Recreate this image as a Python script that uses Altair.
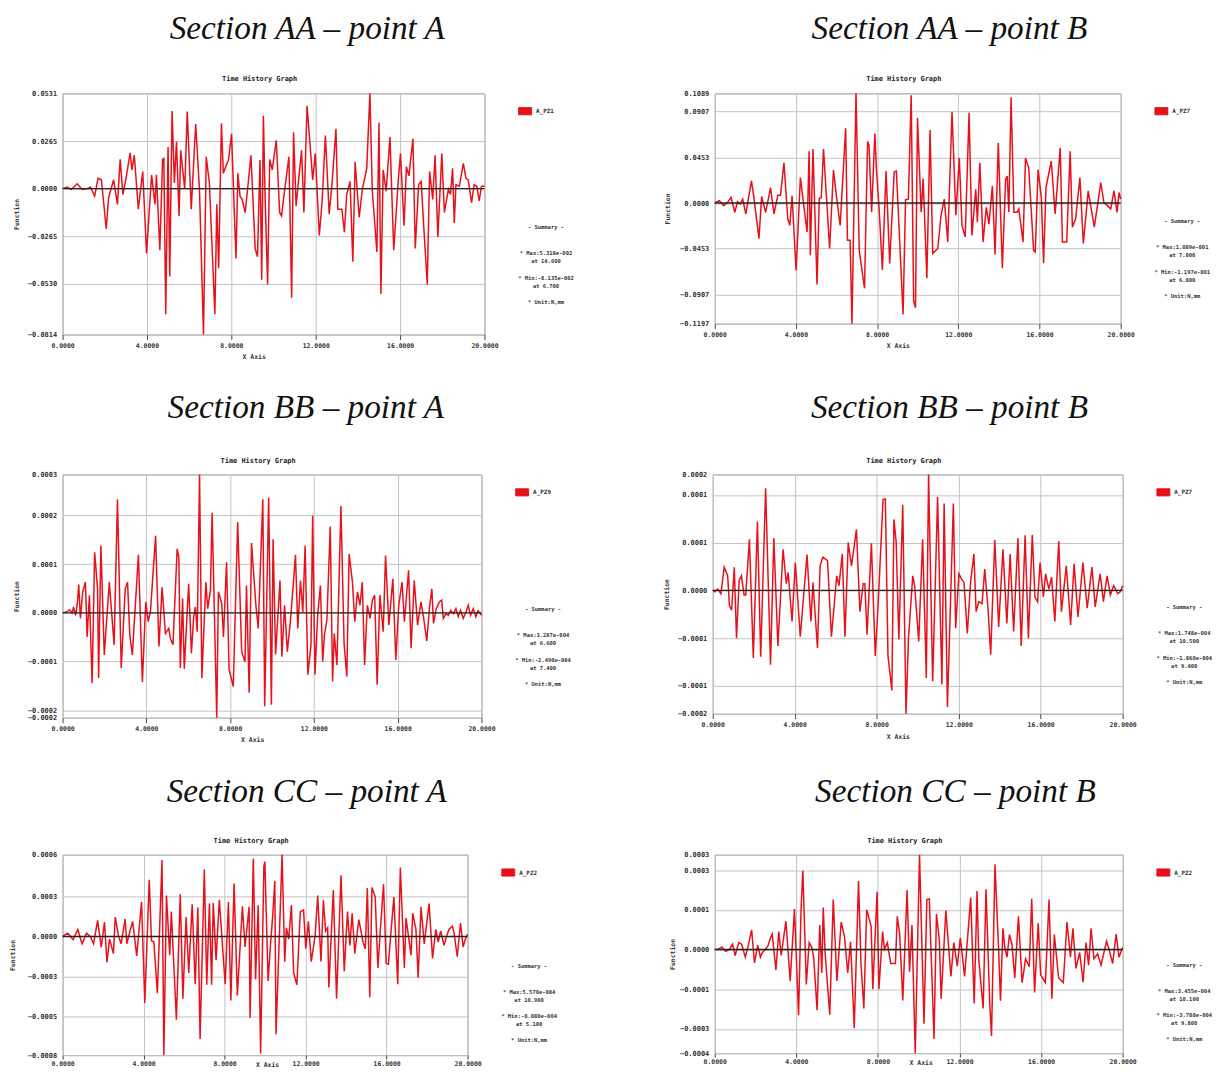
import altair as alt
import pandas as pd

MONO = "DejaVu Sans Mono"
RED = "#e8101a"

# ---------------- Section AA - point A (values x 1e-2) ----------------
aa_a_t = [0.00,0.22,0.41,0.69,0.93,1.19,1.32,1.52,1.68,1.84,2.07,2.18,2.42,2.60,2.73,2.86,3.01,3.20,3.29,3.40,
          3.59,3.80,3.98,4.22,4.38,4.45,4.61,4.74,4.80,4.89,5.00,5.08,5.19,5.30,5.40,5.52,5.60,5.79,5.91,6.10,
          6.31,6.49,6.68,6.81,6.96,7.22,7.31,7.40,7.53,7.62,7.87,8.01,8.22,8.31,8.41,8.50,8.66,8.93,9.13,9.24,
          9.36,9.44,9.52,9.60,9.72,9.82,9.94,10.13,10.29,10.38,10.49,10.73,10.86,10.95,11.07,11.20,11.33,11.44,
          11.59,11.86,11.98,12.17,12.30,12.46,12.64,12.77,12.96,13.05,13.24,13.36,13.47,13.63,13.76,13.87,14.06,
          14.21,14.42,14.57,14.68,14.90,15.00,15.09,15.20,15.34,15.52,15.70,15.91,16.02,16.19,16.30,16.42,16.61,
          16.72,16.88,17.00,17.13,17.29,17.40,17.55,17.66,17.79,17.98,18.10,18.29,18.39,18.49,18.57,18.65,18.81,
          19.00,19.12,19.23,19.39,19.51,19.64,19.75,19.86,20.00]
aa_a_v = [0,0.09,-0.05,0.27,-0.05,0,0.09,-0.42,0.57,0.49,-2.25,-0.51,0.49,-0.88,1.63,-0.33,0.58,1.99,1.04,1.86,
          -1.15,0.95,-3.62,0.75,-0.88,0.77,-3.44,1.63,1.68,-7.00,2.32,-4.90,4.33,0.31,2.63,-1.52,2.14,-0.02,4.29,-1.15,
          3.60,-0.05,-8.135,1.77,0.31,-7.00,-0.88,-4.44,3.64,0.86,1.63,3.05,-3.89,0.86,-0.42,-0.57,-1.33,1.86,-3.34,-3.80,
          1.59,-5.08,4.06,-0.42,-5.35,1.63,1.04,2.69,-1.33,-1.52,-0.42,1.77,-6.09,3.14,-0.97,0.60,2.14,-1.33,
          4.61,0.49,1.96,-2.61,-0.79,2.96,-1.43,0.22,3.33,-1.15,-1.15,-2.43,-0.33,0.40,-4.08,1.50,-1.61,
          -0.05,1.13,5.31,-0.05,-3.53,3.69,-5.87,1.04,-0.15,2.87,-3.44,0.40,1.96,-2.07,1.22,0.71,2.78,
          -3.34,0.22,0.40,-2.25,-5.35,0.95,-0.60,1.86,-2.70,1.96,-1.33,-0.05,-0.33,1.13,-1.92,0.22,0.13,
          1.41,0.58,0.49,-0.79,0.22,0.13,-0.69,0.13,0.13]
aa_a_ticks = [5.31, 2.65, 0, -2.65, -5.30, -8.135]

# ---------------- Section AA - point B (values x 1e-2) ----------------
aa_b_t = [0.00,0.23,0.44,0.64,0.80,0.99,1.12,1.25,1.38,1.53,1.81,1.94,2.18,2.31,2.51,2.75,2.92,3.11,3.24,3.41,
          3.60,3.70,3.81,4.01,4.22,4.38,4.55,4.65,4.71,4.84,5.04,5.15,5.25,5.36,5.66,5.85,6.01,6.18,6.45,6.54,
          6.67,6.76,6.96,7.12,7.38,7.53,7.60,7.73,7.89,7.97,8.10,8.26,8.44,8.62,8.84,8.95,9.28,9.40,9.54,9.68,
          9.80,9.89,9.99,10.17,10.27,10.45,10.61,10.74,10.99,11.15,11.31,11.48,11.69,11.88,12.05,12.18,12.34,12.53,
          12.67,12.86,12.94,13.06,13.22,13.38,13.51,13.68,13.81,13.97,14.17,14.33,14.41,14.49,14.60,14.74,14.90,
          14.98,15.19,15.31,15.47,15.71,15.79,15.93,16.09,16.20,16.32,16.58,16.77,17.02,17.13,17.34,17.51,17.62,
          17.78,17.99,18.16,18.40,18.70,19.02,19.17,19.35,19.51,19.67,19.82,19.92,20.00]
aa_b_v = [0,0.23,-0.26,0.07,0.56,-0.92,0.13,-0.10,0.39,-1.08,2.19,0.39,-3.53,0.65,-0.92,1.54,-1.08,0.78,0.78,3.99,
          -1.57,-2.22,0.72,-6.70,2.52,-0.10,-2.88,5.13,-5.17,5.36,-8.08,0.46,0.52,5.36,-4.51,3.27,0.46,-2.22,7.42,-3.69,
          -3.69,-11.97,10.89,-4.71,-8.47,6.11,5.75,-0.92,6.90,3.24,-0.59,-6.64,3.17,-6.00,3.07,3.17,-11.05,0.33,0.39,10.69,
          -9.74,-10.40,8.44,-0.92,2.42,-7.46,7.26,-5.00,-4.51,-1.24,0.39,-3.86,9.06,-1.20,4.48,-2.22,-3.36,8.96,
          -3.21,1.37,-1.90,3.99,-3.86,-0.43,-2.09,1.70,-5.10,5.95,-6.47,2.35,2.68,-0.92,10.50,-0.92,-0.92,
          -0.59,-3.86,4.48,3.50,-4.71,-4.87,3.31,0.56,-5.98,1.54,4.15,-1.08,5.49,-3.86,-3.86,5.13,-2.39,
          -1.57,2.52,-4.02,1.21,-2.39,2.03,0.07,-0.26,-0.59,1.21,-0.92,1.05,0.39]
aa_b_ticks = [10.89, 9.07, 4.53, 0, -4.53, -9.07, -11.97]

# ---------------- Section BB - point A (values x 1e-4) ----------------
bb_a_t = [0.00,0.17,0.33,0.46,0.52,0.62,0.70,0.77,0.85,0.96,1.09,1.17,1.28,1.41,1.53,1.67,1.72,1.83,1.99,2.23,
          2.46,2.62,2.80,2.99,3.10,3.21,3.33,3.62,3.81,3.97,4.09,4.20,4.44,4.60,4.75,4.91,5.07,5.15,5.27,5.47,
          5.55,5.62,5.73,5.81,6.02,6.15,6.26,6.34,6.43,6.54,6.65,6.84,6.93,7.06,7.14,7.36,7.44,7.60,7.68,7.83,
          7.95,8.15,8.36,8.55,8.71,8.78,8.91,9.02,9.23,9.34,9.56,9.65,9.84,9.97,10.05,10.17,10.38,10.47,10.60,10.73,
          10.89,11.12,11.23,11.36,11.47,11.58,11.71,11.86,11.94,12.05,12.18,12.31,12.42,12.50,12.62,12.78,12.89,12.97,
          13.10,13.29,13.44,13.57,13.68,13.84,13.95,14.08,14.20,14.31,14.42,14.55,14.68,14.79,14.90,15.02,15.15,15.31,
          15.42,15.58,15.77,15.91,16.05,16.21,16.32,16.52,16.64,16.79,16.95,17.11,17.23,17.39,17.52,17.63,17.71,17.84,
          17.99,18.10,18.18,18.31,18.42,18.53,18.66,18.78,18.89,19.00,19.13,19.26,19.37,19.48,19.61,19.73,19.84,19.95,20.00]
bb_a_v = [0,0.02,0.07,0,0.14,-0.06,0.20,0.67,-0.13,0.50,0.73,-0.57,0.42,-1.67,1.44,0.57,-1.55,1.60,-1.00,0.73,
          -0.76,2.70,-1.31,0.57,0.73,-0.53,-1.00,1.38,-1.64,0.26,-0.21,0.06,1.83,-0.80,0.61,-0.49,-0.37,-0.61,-0.76,1.52,
          1.32,-1.31,0.34,-1.33,0.69,-0.96,-0.09,0.14,-0.45,3.287,-1.55,0.73,0.10,0.54,2.38,-2.49,0.50,0.22,-0.57,1.20,
          -1.35,-1.75,2.16,-0.92,-1.16,0.65,-1.90,1.66,0.18,-0.37,2.70,-2.22,2.74,-2.18,1.75,-0.99,0.77,-1.04,0.18,-0.92,
          -0.13,1.38,-0.37,0.77,0.02,1.60,-1.47,-0.76,2.31,-1.47,-0.06,0.65,-1.16,-0.53,-0.17,2.05,-1.63,-0.49,
          -1.24,2.54,-0.72,-1.51,1.40,0.73,-0.21,0.50,0.18,0.73,-1.24,0.18,-0.13,0.30,0.42,-1.71,0.42,-0.45,
          1.36,-0.29,0.81,-1.12,0.18,0.73,-0.21,1.01,-0.84,0.77,-0.29,0.26,-0.09,-0.67,0.14,0.57,-0.25,0.10,
          0.26,0.30,-0.13,-0.02,-0.06,0.06,-0.02,0.10,-0.09,0.06,-0.13,0.02,0.18,-0.06,0.10,-0.09,0.05,-0.02,-0.06]
bb_a_ticks = [3.287, 2.314, 1.157, 0, -1.157, -2.314, -2.49]

# ---------------- Section BB - point B (values x 1e-4) ----------------
bb_b_t = [0.00,0.11,0.24,0.40,0.56,0.73,0.81,0.92,1.05,1.16,1.29,1.40,1.53,1.61,1.79,1.98,2.18,2.34,2.58,2.82,
          2.98,3.18,3.43,3.59,3.68,3.87,4.03,4.27,4.60,4.79,4.89,5.11,5.24,5.37,5.60,5.79,6.05,6.16,6.32,6.45,
          6.61,6.77,7.01,7.18,7.34,7.42,7.53,7.74,7.93,8.06,8.31,8.42,8.55,8.74,8.84,8.95,9.08,9.27,9.43,9.55,
          9.76,9.85,10.05,10.24,10.42,10.53,10.73,10.97,11.18,11.29,11.45,11.74,11.85,12.01,12.14,12.26,12.42,12.58,
          12.74,12.85,12.98,13.14,13.27,13.43,13.56,13.76,13.95,14.16,14.35,14.51,14.68,14.89,15.05,15.24,15.40,15.59,
          15.72,15.85,15.97,16.13,16.24,16.40,16.53,16.69,16.88,17.01,17.25,17.46,17.63,17.82,18.06,18.27,18.50,18.66,
          18.90,19.06,19.24,19.40,19.56,19.76,19.88,20.00]
bb_b_v = [0,-0.02,0.02,-0.05,0.35,0.22,-0.22,-0.30,0.35,-0.72,0.15,0.22,-0.07,-0.07,0.77,-1.02,1.04,-1.00,1.54,-1.12,
          0.79,-0.84,0.62,0.10,0.27,-0.47,0.42,-0.70,0.54,-0.47,0.12,-0.87,0.37,0.50,0.45,-0.70,0.22,0.07,0.55,-0.70,
          0.72,0.37,0.92,-0.32,0.10,0.10,-0.67,0.71,-0.99,-0.27,1.37,1.38,-0.99,-1.51,1.07,0.72,-0.74,1.29,-1.86,-0.72,
          0.22,0.07,-0.77,0.77,-1.32,1.748,-1.37,1.41,-1.42,1.31,-1.76,1.31,-0.57,0.25,0.17,0.12,-0.65,0.12,
          0.55,-0.32,-0.17,-0.20,0.32,-0.27,-0.97,0.76,-0.55,0.62,-0.50,0.55,-0.62,0.79,-0.84,0.83,-0.72,0.84,
          -0.10,-0.17,0.42,-0.10,0.25,0.02,0.20,-0.47,0.74,-0.32,0.37,-0.52,0.40,-0.40,0.42,-0.27,0.35,-0.25,
          0.25,-0.17,0.22,-0.07,0.07,-0.05,-0.02,0.07]
bb_b_ticks = [1.748, 1.44, 0.72, 0, -0.72, -1.44, -1.86]

# ---------------- Section CC - point A (values x 1e-4) ----------------
cc_a_t = [0.00,0.26,0.52,0.75,0.96,1.18,1.37,1.53,1.73,1.91,2.07,2.19,2.32,2.51,2.60,2.76,2.89,3.09,3.17,3.33,
          3.46,3.66,3.90,4.06,4.28,4.39,4.51,4.68,4.91,5.00,5.13,5.29,5.37,5.62,5.81,5.94,6.10,6.23,6.40,6.55,
          6.68,6.79,7.00,7.12,7.25,7.36,7.44,7.58,7.74,7.90,8.03,8.19,8.31,8.47,8.63,8.88,9.01,9.21,9.26,9.42,
          9.53,9.66,9.78,9.94,9.99,10.15,10.27,10.38,10.48,10.54,10.84,10.97,11.05,11.17,11.30,11.41,11.57,11.74,
          11.90,12.01,12.14,12.28,12.47,12.60,12.76,12.88,12.99,13.09,13.15,13.37,13.53,13.75,13.91,14.07,14.19,
          14.30,14.43,14.63,14.84,14.95,15.05,15.17,15.28,15.44,15.57,15.70,15.85,15.98,16.09,16.19,16.36,16.55,
          16.68,16.88,16.96,17.21,17.29,17.45,17.56,17.70,17.86,18.10,18.27,18.43,18.55,18.67,18.84,18.97,19.08,
          19.25,19.33,19.49,19.65,19.78,19.89,20.00]
cc_a_v = [0,0.22,-0.22,0.48,-0.50,0.22,0,-0.50,1.10,-0.72,0.97,-1.76,-0.18,-1.16,1.32,0.04,-0.50,1.19,-0.50,0.37,
          1.03,-1.32,2.35,-4.52,3.86,-0.29,-0.39,-3.86,5.20,-8.08,2.78,-1.28,1.69,-5.66,2.88,-4.24,1.32,-2.48,2.19,-3.25,
          1.98,-6.98,4.55,-3.29,2.24,-3.29,2.28,-1.61,2.50,-0.72,-3.25,2.35,-4.35,3.60,-4.02,2.06,-0.72,2.02,-5.55,5.31,
          -2.92,2.13,-7.97,4.76,5.09,-3.03,-0.50,1.47,3.78,-6.65,5.57,-1.72,0.59,-0.18,2.13,-2.47,-3.29,1.69,
          1.80,-0.83,1.03,-1.71,0.04,2.78,-1.71,2.46,0.37,0.59,-3.47,3.16,-4.24,4.17,-2.37,1.69,-0.61,
          1.58,-1.16,1.15,-0.39,-0.83,3.29,-4.13,3.34,2.68,-2.15,0.59,3.56,-1.83,-1.89,-0.18,2.68,-3.25,
          4.70,-2.15,1.25,-1.27,1.58,0.48,-2.81,2.02,-0.50,2.24,-1.49,0.48,-0.39,0.37,-0.61,0.04,0.48,
          0.70,0.26,-1.38,0.92,-0.72,-0.18,0.15]
cc_a_ticks = [5.57, 2.72, 0, -2.72, -5.44, -8.08]

# ---------------- Section CC - point B (values x 1e-4) ----------------
cc_b_t = [0.00,0.18,0.35,0.53,0.70,0.88,1.00,1.18,1.32,1.50,1.64,1.81,1.95,2.11,2.24,2.34,2.48,2.61,2.73,2.82,
          3.00,3.14,3.26,3.49,3.70,3.91,4.11,4.23,4.32,4.49,4.63,4.76,4.85,5.02,5.15,5.25,5.32,5.41,5.64,5.81,
          5.99,6.20,6.36,6.52,6.66,6.84,7.05,7.17,7.31,7.45,7.67,7.75,7.96,8.05,8.23,8.32,8.46,8.63,8.86,8.95,
          9.07,9.22,9.43,9.55,9.67,9.83,10.04,10.26,10.40,10.52,10.75,10.87,11.01,11.10,11.33,11.58,11.72,11.89,
          12.04,12.25,12.55,12.72,12.86,12.95,13.16,13.30,13.48,13.57,13.74,13.92,14.01,14.13,14.22,14.33,14.45,
          14.57,14.71,14.89,15.07,15.24,15.42,15.54,15.68,15.86,15.98,16.21,16.39,16.53,16.65,16.86,17.09,17.27,
          17.44,17.56,17.71,17.89,18.06,18.20,18.33,18.45,18.59,18.77,18.94,19.21,19.33,19.51,19.68,19.82,20.00]
cc_b_v = [0,0.01,0.09,-0.07,-0.02,0.19,-0.22,0.25,0.19,-0.28,0.13,0.71,-0.49,0.16,-0.28,-0.11,0,0.13,0.42,0.56,
          -0.75,0.65,-0.22,1.03,-1.15,1.47,-2.40,1.42,2.87,-1.28,0.25,0.07,-0.28,-2.21,0.89,-0.86,1.53,-0.11,-2.38,1.82,
          -1.15,1.00,0.48,-0.86,0.28,-2.87,2.49,-0.51,-2.15,1.45,0.83,-1.45,2.10,-1.45,0.65,0.01,0.25,-0.51,-0.51,1.21,
          0.54,-1.86,2.17,-0.81,0.89,-3.78,3.455,-2.71,1.82,1.84,-3.26,1.29,0.36,-1.80,1.42,-0.98,0.25,-0.61,
          0.42,-0.98,1.89,-1.97,2.13,-0.40,-2.15,2.19,-1.92,-3.15,3.10,-0.05,-1.87,0.77,0.07,-0.28,0.54,
          0.19,-1.04,1.21,-1.21,-0.34,-0.63,1.85,-1.57,0.95,-0.93,-1.21,1.82,-1.80,0.54,-1.04,-1.21,1.00,
          -0.28,0.77,-0.69,-0.11,-1.19,0.25,-0.57,0.77,-0.34,-0.16,-0.57,0.30,0.01,-0.51,0.56,-0.28,0.07]
cc_b_ticks = [3.455, 2.894, 1.447, 0, -1.447, -2.894, -3.78]

x_ticks = [0, 4, 8, 12, 16, 20]

# summary text lines and their vertical offsets (px below the first line)
SUMMARY_OFFSETS = [0, 26, 34, 51, 59, 75]


def panel(title, t, v, unit, ticks, w, h, series, summary, ypad, dx, toff, bottom=False):
    df = pd.DataFrame({"t": t, "v": [a * unit for a in v], "s": series})
    yt = [a * unit for a in ticks]
    if bottom:
        xaxis = alt.Axis(values=x_ticks, format=".4f", title="X Axis", ticks=True, tickSize=4,
                         tickColor="#444", labelPadding=1, titleX=w / 2 + 2, titleY=9,
                         titleBaseline="middle", labelFlush=False, labelOverlap=False, tickCount=20)
    else:
        xaxis = alt.Axis(values=x_ticks, format=".4f", title="X Axis", ticks=True, tickSize=5,
                         tickColor="#444", labelPadding=3, titlePadding=5, titleX=w / 2 - 20,
                         labelFlush=False, labelOverlap=False, tickCount=20)
    x = alt.X("t:Q", scale=alt.Scale(domain=[0, 20], nice=False, zero=False), axis=xaxis)
    y = alt.Y("v:Q", scale=alt.Scale(domain=[yt[-1], yt[0]], nice=False, zero=False),
              axis=alt.Axis(values=yt, format=".4f", title="Function", ticks=False, labelPadding=6,
                            titlePadding=ypad, labelOverlap=False, labelBound=False, tickCount=20,
                            labelFontSize=7))
    one = pd.DataFrame({"z": [0]})
    zero = alt.Chart(one).mark_rule(color="#222", strokeWidth=1.4).encode(y=alt.datum(0))
    line = alt.Chart(df).mark_line(strokeWidth=1.5, interpolate="linear").encode(
        x=x, y=y,
        color=alt.Color("s:N", scale=alt.Scale(domain=[series], range=[RED]),
                        legend=alt.Legend(title=None, orient="none", legendX=w + 34, legendY=11,
                                          symbolType="M-1,-0.55L1,-0.55L1,0.55L-1,0.55Z",
                                          symbolSize=169, symbolFillColor=RED, symbolStrokeWidth=1,
                                          labelFont=MONO, labelFontSize=6, labelFontWeight="bold",
                                          labelColor="#333")))
    sub = alt.Chart(one).mark_text(text="Time History Graph", font=MONO, fontSize=7, fontWeight="bold",
                                   color="#222").encode(x=alt.value(w / 2 - 14), y=alt.value(-14))
    layers = [line, zero, sub]
    y0 = round(0.555 * h)
    for txt, off in zip(summary, SUMMARY_OFFSETS):
        layers.append(alt.Chart(one).mark_text(text=txt, font=MONO, fontSize=5.5, fontWeight="bold",
                                               color="#333", align="center").encode(
            x=alt.value(w + 62), y=alt.value(y0 + off)))
    return alt.layer(*layers).properties(
        width=w, height=h,
        title=alt.TitleParams(text=title, font="Liberation Serif", fontStyle="italic", fontSize=33.5,
                              fontWeight="normal", color="#111", anchor="middle", frame="group",
                              dx=dx, offset=toff))


def summ_lines(mx, at_mx, mn, at_mn):
    return ["- Summary -", "* Max:" + mx, "at " + at_mx, "* Min:" + mn, "at " + at_mn, "* Unit:N,mm"]


p1 = panel("Section AA \u2013 point A", aa_a_t, aa_a_v, 1e-2, aa_a_ticks, 425, 243, "A_PZ1",
           summ_lines("5.310e-002", "14.600", "-8.135e-002", " 6.700"), 8, 34, 29)
p2 = panel("Section AA \u2013 point B", aa_b_t, aa_b_v, 1e-2, aa_b_ticks, 409, 232, "A_PZ7",
           summ_lines("1.089e-001", " 7.000", "-1.197e-001", " 6.800"), 9, 32, 29)
p3 = panel("Section BB \u2013 point A", bb_a_t, bb_a_v, 1e-4, bb_a_ticks, 422, 245, "A_PZ9",
           summ_lines("3.287e-004", " 6.600", "-2.490e-004", " 7.400"), 8, 34, 31)
p4 = panel("Section BB \u2013 point B", bb_b_t, bb_b_v, 1e-4, bb_b_ticks, 413, 241, "A_PZ7",
           summ_lines("1.748e-004", "10.500", "-1.860e-004", " 9.400"), 8, 32, 31)
p5 = panel("Section CC \u2013 point A", cc_a_t, cc_a_v, 1e-4, cc_a_ticks, 408, 202, "A_PZ2",
           summ_lines("5.570e-004", "10.900", "-8.080e-004", " 5.100"), 12, 42, 28, bottom=True)
p6 = panel("Section CC \u2013 point B", cc_b_t, cc_b_v, 1e-4, cc_b_ticks, 411, 200, "A_PZ2",
           summ_lines("3.455e-004", "10.100", "-3.780e-004", " 9.800"), 4, 37, 28, bottom=True)

row1 = alt.hconcat(p1, p2, spacing=89).resolve_scale(color="independent", x="independent", y="independent")
row2 = alt.hconcat(p3, p4, spacing=91).resolve_scale(color="independent", x="independent", y="independent")
row3 = alt.hconcat(p5, p6, spacing=111).resolve_scale(color="independent", x="independent", y="independent")

chart = alt.concat(row1, row2, row3, columns=1, spacing=30, align="none").properties(
    padding=0
).configure_view(
    stroke="#9a9a9a", strokeWidth=1
).configure_axis(
    labelFont=MONO, labelFontSize=6.5, labelFontWeight="bold", labelColor="#333",
    titleFont=MONO, titleFontSize=6.5, titleFontWeight="bold", titleColor="#333",
    grid=True, gridColor="#c4c4c4", gridWidth=1, domain=False
)

chart.save("out.html", embed_options={"renderer": "svg", "actions": False})
